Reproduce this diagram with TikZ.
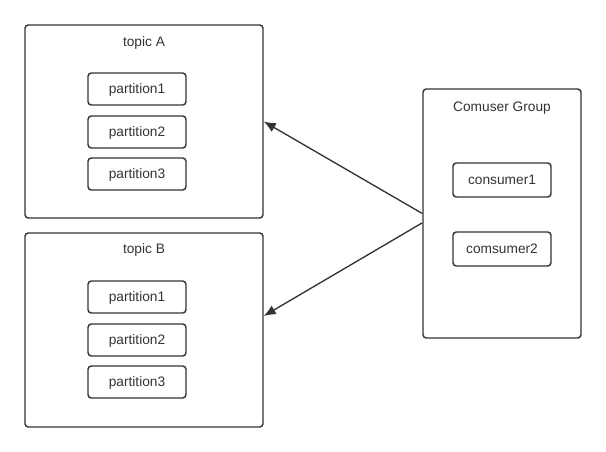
\documentclass[tikz,border=0pt]{standalone}
\usepackage{fontspec}
\setmainfont{Liberation Sans}
\usepackage{xcolor}
\usepackage{tikz}
\usetikzlibrary{positioning,arrows.meta}

\definecolor{ink}{HTML}{333333}

\begin{document}
\begin{tikzpicture}[x=0.75pt, y=-0.75pt, font=\fontsize{10.3}{12}\selectfont,
    outerbox/.style={draw=ink, line width=1.1pt, rounded corners=2.5pt, inner sep=0pt},
    innerbox/.style={draw=ink, line width=1.1pt, rounded corners=2.5pt, inner sep=0pt,
      minimum width=73.5pt, minimum height=24pt, text=ink, text depth=0pt, text height=7pt},
    title/.style={text=ink},
    link/.style={draw=ink, line width=1pt, -{Latex[length=9pt, width=7.5pt]}}]
  \useasboundingbox (0,0) rectangle (606,452);
  % topic boxes
  \node[outerbox, minimum width=178.5pt, minimum height=144.75pt] (topicA) at (144,121.5) {};
  \node[title] (titleA) at (144,42.5) {topic A};
  \node[outerbox, minimum width=178.5pt, minimum height=145.5pt] (topicB) at (144,330) {};
  \node[title] (titleB) at (144,249.5) {topic B};
  \foreach \i/\y in {1/89,2/132,3/174}
    \node[innerbox] (pA\i) at (137,\y) {partition\i};
  \foreach \i/\y in {1/297,2/340,3/382}
    \node[innerbox] (pB\i) at (137,\y) {partition\i};
  % consumer group
  \node[outerbox, minimum width=118.5pt, minimum height=186.75pt] (group) at (502,213.5) {};
  \node[title] (titleG) at (502,108.5) {Comuser Group};
  \node[innerbox, minimum height=25.5pt] (c1) at (502,180) {consumer1};
  \node[innerbox, minimum height=25.5pt] (c2) at (502,249) {comsumer2};
  % links
  \draw[link] (group.west) -- (topicA.east);
  \draw[link] ([yshift=-7pt]group.west) -- ([yshift=10.5pt]topicB.east);
\end{tikzpicture}
\end{document}
